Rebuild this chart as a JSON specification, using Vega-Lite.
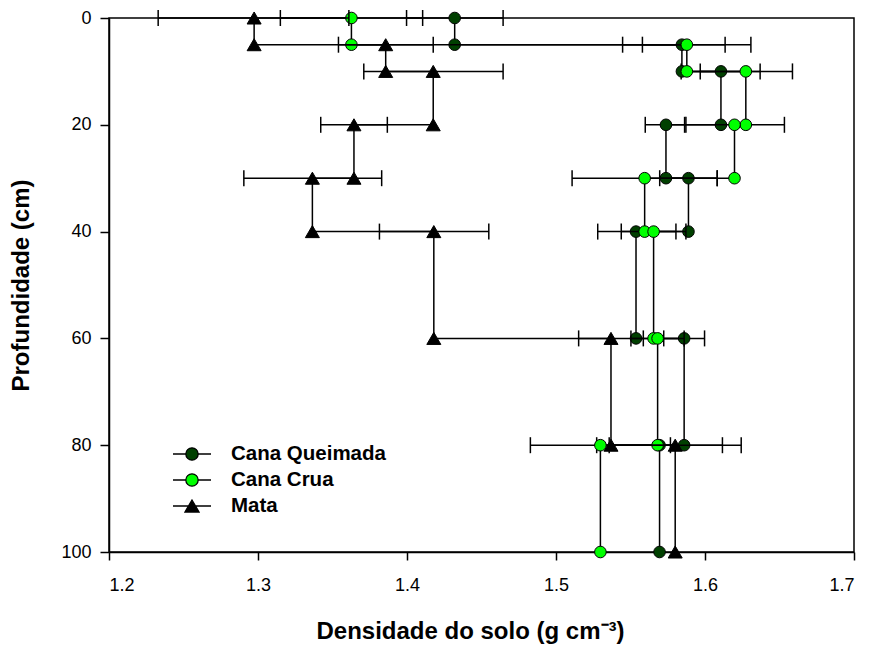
{
  "$schema": "https://vega.github.io/schema/vega-lite/v6.json",
  "width": 745,
  "height": 534,
  "autosize": "none",
  "padding": {"left": 109, "top": 18, "right": 15, "bottom": 93},
  "background": "white",
  "config": {
    "view": {"stroke": "black", "strokeWidth": 1.5},
    "font": "Liberation Sans",
    "axis": {
      "grid": false,
      "domainColor": "black",
      "domainWidth": 1.5,
      "tickColor": "black",
      "tickWidth": 1.5,
      "labelColor": "black",
      "titleColor": "black",
      "labelFont": "Liberation Sans",
      "titleFont": "Liberation Sans",
      "labelFontSize": 18,
      "titleFontSize": 24,
      "titleFontWeight": "bold"
    }
  },
  "data": {
    "values": [
      {"s": "Cana Queimada", "o": 1, "d": 0, "x": 1.432, "lo": 1.3997, "hi": 1.4645},
      {"s": "Cana Queimada", "o": 2, "d": 5, "x": 1.432},
      {"s": "Cana Queimada", "o": 3, "d": 5, "x": 1.5845, "lo": 1.558, "hi": 1.6135},
      {"s": "Cana Queimada", "o": 4, "d": 10, "x": 1.5845},
      {"s": "Cana Queimada", "o": 5, "d": 10, "x": 1.6107, "lo": 1.584, "hi": 1.637},
      {"s": "Cana Queimada", "o": 6, "d": 20, "x": 1.6107},
      {"s": "Cana Queimada", "o": 7, "d": 20, "x": 1.5738, "lo": 1.5599, "hi": 1.5872},
      {"s": "Cana Queimada", "o": 8, "d": 30, "x": 1.5738},
      {"s": "Cana Queimada", "o": 9, "d": 30, "x": 1.5889, "lo": 1.5696, "hi": 1.6082},
      {"s": "Cana Queimada", "o": 10, "d": 40, "x": 1.5889},
      {"s": "Cana Queimada", "o": 11, "d": 40, "x": 1.5537, "lo": 1.528, "hi": 1.5805},
      {"s": "Cana Queimada", "o": 12, "d": 60, "x": 1.5537},
      {"s": "Cana Queimada", "o": 13, "d": 60, "x": 1.586, "lo": 1.5723, "hi": 1.5997},
      {"s": "Cana Queimada", "o": 14, "d": 80, "x": 1.586},
      {"s": "Cana Queimada", "o": 15, "d": 80, "x": 1.5695, "lo": 1.5273, "hi": 1.6117},
      {"s": "Cana Queimada", "o": 16, "d": 100, "x": 1.5695},
      {"s": "Cana Crua", "o": 1, "d": 0, "x": 1.3627, "lo": 1.315, "hi": 1.4105},
      {"s": "Cana Crua", "o": 2, "d": 5, "x": 1.3627},
      {"s": "Cana Crua", "o": 3, "d": 5, "x": 1.5878, "lo": 1.5447, "hi": 1.6308},
      {"s": "Cana Crua", "o": 4, "d": 10, "x": 1.5878},
      {"s": "Cana Crua", "o": 5, "d": 10, "x": 1.6274, "lo": 1.5968, "hi": 1.6587},
      {"s": "Cana Crua", "o": 6, "d": 20, "x": 1.6274},
      {"s": "Cana Crua", "o": 7, "d": 20, "x": 1.6198, "lo": 1.5863, "hi": 1.6533},
      {"s": "Cana Crua", "o": 8, "d": 30, "x": 1.6198},
      {"s": "Cana Crua", "o": 9, "d": 30, "x": 1.5595, "lo": 1.5108, "hi": 1.6082},
      {"s": "Cana Crua", "o": 10, "d": 40, "x": 1.5595},
      {"s": "Cana Crua", "o": 11, "d": 40, "x": 1.5655, "lo": 1.5438, "hi": 1.5872},
      {"s": "Cana Crua", "o": 12, "d": 60, "x": 1.5655},
      {"s": "Cana Crua", "o": 13, "d": 60, "x": 1.5682, "lo": 1.5503, "hi": 1.586},
      {"s": "Cana Crua", "o": 14, "d": 80, "x": 1.5682},
      {"s": "Cana Crua", "o": 15, "d": 80, "x": 1.5298, "lo": 1.4828, "hi": 1.5768},
      {"s": "Cana Crua", "o": 16, "d": 100, "x": 1.5298},
      {"s": "Mata", "o": 1, "d": 0, "x": 1.2974, "lo": 1.233, "hi": 1.361},
      {"s": "Mata", "o": 2, "d": 5, "x": 1.2974},
      {"s": "Mata", "o": 3, "d": 5, "x": 1.3857, "lo": 1.354, "hi": 1.4176},
      {"s": "Mata", "o": 4, "d": 10, "x": 1.3857},
      {"s": "Mata", "o": 5, "d": 10, "x": 1.4176, "lo": 1.371, "hi": 1.4645},
      {"s": "Mata", "o": 6, "d": 20, "x": 1.4176},
      {"s": "Mata", "o": 7, "d": 20, "x": 1.3644, "lo": 1.3421, "hi": 1.3868},
      {"s": "Mata", "o": 8, "d": 30, "x": 1.3644},
      {"s": "Mata", "o": 9, "d": 30, "x": 1.3365, "lo": 1.2905, "hi": 1.383},
      {"s": "Mata", "o": 10, "d": 40, "x": 1.3365},
      {"s": "Mata", "o": 11, "d": 40, "x": 1.418, "lo": 1.3815, "hi": 1.4549},
      {"s": "Mata", "o": 12, "d": 60, "x": 1.418},
      {"s": "Mata", "o": 13, "d": 60, "x": 1.5369, "lo": 1.5152, "hi": 1.5586},
      {"s": "Mata", "o": 14, "d": 80, "x": 1.5369},
      {"s": "Mata", "o": 15, "d": 80, "x": 1.58, "lo": 1.5357, "hi": 1.6243},
      {"s": "Mata", "o": 16, "d": 100, "x": 1.58}
    ]
  },
  "encoding": {
    "x": {
      "field": "x",
      "type": "quantitative",
      "title": "Densidade do solo (g cm⁻³)",
      "scale": {"domain": [1.2, 1.7], "nice": false, "zero": false},
      "axis": {"values": [1.2, 1.3, 1.4, 1.5, 1.6, 1.7], "format": ".1f", "tickSize": 8, "labelPadding": 16, "titlePadding": 25, "titleX": 361}
    },
    "y": {
      "field": "d",
      "type": "quantitative",
      "title": "Profundidade (cm)",
      "scale": {"domain": [0, 100], "reverse": true, "nice": false},
      "axis": {"values": [0, 20, 40, 60, 80, 100], "tickSize": 9, "labelPadding": 9, "titlePadding": 27}
    }
  },
  "layer": [
    {
      "transform": [{"filter": "datum.s === 'Cana Queimada'"}],
      "layer": [
        {"mark": {"type": "line", "color": "black", "strokeWidth": 1.5}, "encoding": {"order": {"field": "o", "type": "quantitative"}}},
        {"transform": [{"filter": "isValid(datum.lo)"}], "mark": {"type": "rule", "color": "black", "strokeWidth": 1.5}, "encoding": {"x": {"field": "lo", "type": "quantitative", "title": "Densidade do solo (g cm⁻³)"}, "x2": {"field": "hi"}}},
        {"transform": [{"filter": "isValid(datum.lo)"}], "mark": {"type": "tick", "orient": "vertical", "color": "black", "thickness": 1.5, "size": 16, "opacity": 1}, "encoding": {"x": {"field": "lo", "type": "quantitative", "title": "Densidade do solo (g cm⁻³)"}}},
        {"transform": [{"filter": "isValid(datum.lo)"}], "mark": {"type": "tick", "orient": "vertical", "color": "black", "thickness": 1.5, "size": 16, "opacity": 1}, "encoding": {"x": {"field": "hi", "type": "quantitative", "title": "Densidade do solo (g cm⁻³)"}}},
        {"mark": {"type": "point", "shape": "circle", "filled": true, "fill": "#004000", "stroke": "black", "strokeWidth": 1, "size": 135, "opacity": 1}}
      ]
    },
    {
      "transform": [{"filter": "datum.s === 'Cana Crua'"}],
      "layer": [
        {"mark": {"type": "line", "color": "black", "strokeWidth": 1.5}, "encoding": {"order": {"field": "o", "type": "quantitative"}}},
        {"transform": [{"filter": "isValid(datum.lo)"}], "mark": {"type": "rule", "color": "black", "strokeWidth": 1.5}, "encoding": {"x": {"field": "lo", "type": "quantitative", "title": "Densidade do solo (g cm⁻³)"}, "x2": {"field": "hi"}}},
        {"transform": [{"filter": "isValid(datum.lo)"}], "mark": {"type": "tick", "orient": "vertical", "color": "black", "thickness": 1.5, "size": 16, "opacity": 1}, "encoding": {"x": {"field": "lo", "type": "quantitative", "title": "Densidade do solo (g cm⁻³)"}}},
        {"transform": [{"filter": "isValid(datum.lo)"}], "mark": {"type": "tick", "orient": "vertical", "color": "black", "thickness": 1.5, "size": 16, "opacity": 1}, "encoding": {"x": {"field": "hi", "type": "quantitative", "title": "Densidade do solo (g cm⁻³)"}}},
        {"mark": {"type": "point", "shape": "circle", "filled": true, "fill": "#00ff00", "stroke": "black", "strokeWidth": 1, "size": 135, "opacity": 1}}
      ]
    },
    {
      "transform": [{"filter": "datum.s === 'Mata'"}],
      "layer": [
        {"mark": {"type": "line", "color": "black", "strokeWidth": 1.5}, "encoding": {"order": {"field": "o", "type": "quantitative"}}},
        {"transform": [{"filter": "isValid(datum.lo)"}], "mark": {"type": "rule", "color": "black", "strokeWidth": 1.5}, "encoding": {"x": {"field": "lo", "type": "quantitative", "title": "Densidade do solo (g cm⁻³)"}, "x2": {"field": "hi"}}},
        {"transform": [{"filter": "isValid(datum.lo)"}], "mark": {"type": "tick", "orient": "vertical", "color": "black", "thickness": 1.5, "size": 16, "opacity": 1}, "encoding": {"x": {"field": "lo", "type": "quantitative", "title": "Densidade do solo (g cm⁻³)"}}},
        {"transform": [{"filter": "isValid(datum.lo)"}], "mark": {"type": "tick", "orient": "vertical", "color": "black", "thickness": 1.5, "size": 16, "opacity": 1}, "encoding": {"x": {"field": "hi", "type": "quantitative", "title": "Densidade do solo (g cm⁻³)"}}},
        {"mark": {"type": "point", "shape": "M0,-1.1L1.28,1.1L-1.28,1.1Z", "filled": true, "fill": "#000000", "stroke": "black", "strokeWidth": 1, "size": 120, "opacity": 1}}
      ]
    },
    {
      "mark": {"type": "point", "filled": true, "stroke": "black", "strokeWidth": 1.3, "opacity": 0},
      "encoding": {
        "fill": {"field": "s", "type": "nominal",
          "scale": {"domain": ["Cana Queimada", "Cana Crua", "Mata"], "range": ["#004000", "#00ff00", "#000000"]},
          "legend": {"title": null, "orient": "none", "legendX": 72.5, "legendY": 425.5, "padding": 0, "symbolSize": 361, "symbolOpacity": 1, "symbolStrokeColor": "black", "symbolStrokeWidth": 1.3, "labelOffset": 28.5, "rowPadding": 5, "labelFont": "Liberation Sans", "labelFontSize": 20.5, "labelFontWeight": "bold", "labelColor": "black", "labelExpr": "datum.value === 'Mata' ? '\u00a0Mata' : datum.label",
            "encode": {"symbols": {"update": {"stroke": {"value": "black"}, "strokeWidth": {"value": 1.3}, "strokeOpacity": {"value": 1}}}}}},
        "shape": {"field": "s", "type": "nominal",
          "scale": {"domain": ["Cana Queimada", "Cana Crua", "Mata"], "range": ["M-2,0L-0.65,0M0.65,0L2,0M0.65,0A0.65,0.65,0,1,1,-0.65,0A0.65,0.65,0,1,1,0.65,0Z", "M-2,0L-0.65,0M0.65,0L2,0M0.65,0A0.65,0.65,0,1,1,-0.65,0A0.65,0.65,0,1,1,0.65,0Z", "M-2,0L2,0M0,-0.63L0.74,0.63L-0.74,0.63Z"]},
          "legend": {"title": null, "orient": "none", "legendX": 72.5, "legendY": 425.5, "padding": 0, "symbolSize": 361, "symbolOpacity": 1, "symbolStrokeColor": "black", "symbolStrokeWidth": 1.3, "labelOffset": 28.5, "rowPadding": 5, "labelFont": "Liberation Sans", "labelFontSize": 20.5, "labelFontWeight": "bold", "labelColor": "black", "labelExpr": "datum.value === 'Mata' ? '\u00a0Mata' : datum.label",
            "encode": {"symbols": {"update": {"stroke": {"value": "black"}, "strokeWidth": {"value": 1.3}, "strokeOpacity": {"value": 1}}}}}}
      }
    }
  ]
}
